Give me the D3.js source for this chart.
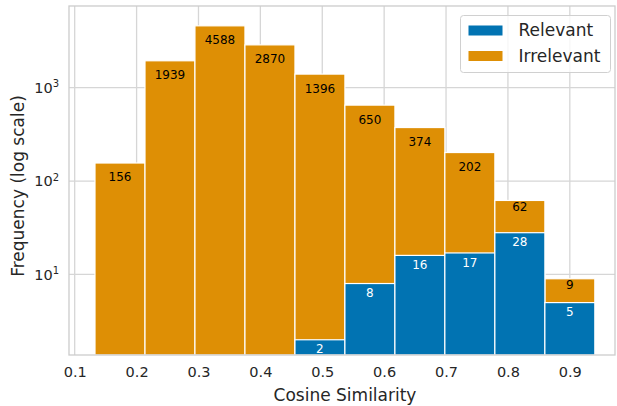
<!DOCTYPE html>
<html>
<head>
<meta charset="utf-8">
<script src="https://cdn.jsdelivr.net/npm/d3@7"></script>
<style>
	body { margin: 0; background: #fff; }
	text { font-family: "DejaVu Sans", sans-serif; }
</style>
</head>
<body>
<div id="chart"></div>
<script>
// histogram of cosine similarity, 10 bins
var binEdges = [0.1328, 0.2136, 0.2943, 0.3751, 0.4559, 0.5366, 0.6174, 0.6981, 0.7789, 0.8597, 0.9404]
var irrelevant = [156, 1939, 4588, 2870, 1396, 650, 374, 202, 62, 9]
var relevant = [0, 0, 0, 0, 2, 8, 16, 17, 28, 5]
var xTicks = [0.1, 0.2, 0.3, 0.4, 0.5, 0.6, 0.7, 0.8, 0.9]
var yTicks = [10, 100, 1000]
var seriesNames = ['Relevant', 'Irrelevant']

var colors = { Relevant: '#0173b2', Irrelevant: '#de8f05' }
var gridColor = '#d6d6d6'
var textColor = '#262626'

var width = 617, height = 406
var margin = { top: 6, right: 2, bottom: 51, left: 69 }

var svg = d3.select('#chart').append('svg')
	.attr('width', width).attr('height', height)

var x = d3.scaleLinear().domain([0.0908, 0.9730]).range([margin.left, width - margin.right])
var y = d3.scaleLog().domain([1.374, 7480]).range([height - margin.bottom, margin.top])

var plotBottom = height - margin.bottom

// grid
var grid = svg.append('g')
grid.selectAll('.vgrid').data(xTicks).enter().append('line')
	.attr('x1', function(d) { return x(d) }).attr('x2', function(d) { return x(d) })
	.attr('y1', margin.top).attr('y2', plotBottom)
	.attr('stroke', gridColor).attr('stroke-width', 1.3)
grid.selectAll('.hgrid').data(yTicks).enter().append('line')
	.attr('x1', margin.left).attr('x2', width - margin.right)
	.attr('y1', function(d) { return y(d) }).attr('y2', function(d) { return y(d) })
	.attr('stroke', gridColor).attr('stroke-width', 1.3)

// bars
function bins(counts) {
	return counts.map(function(c, i) { return { x0: binEdges[i], x1: binEdges[i + 1], count: c } })
}

var irrBins = bins(irrelevant)
var relBins = bins(relevant).filter(function(d) { return d.count > 0 })

function drawBars(data, color) {
	svg.append('g').selectAll('rect').data(data).enter().append('rect')
		.attr('x', function(d) { return x(d.x0) })
		.attr('width', function(d) { return x(d.x1) - x(d.x0) })
		.attr('y', function(d) { return y(d.count) })
		.attr('height', function(d) { return plotBottom - y(d.count) })
		.attr('fill', color)
		.attr('stroke', '#fff').attr('stroke-width', 1.2)
}
drawBars(irrBins, colors.Irrelevant)
drawBars(relBins, colors.Relevant)

// bar labels
svg.append('g').selectAll('text').data(irrBins).enter().append('text')
	.attr('x', function(d) { return (x(d.x0) + x(d.x1)) / 2 })
	.attr('y', function(d) { return y(d.count * (d.count >= 100 ? 0.7 : 0.85)) })
	.attr('text-anchor', 'middle').attr('dominant-baseline', 'central')
	.attr('font-size', '12px').attr('fill', '#000')
	.text(function(d) { return d.count })

svg.append('g').selectAll('text').data(relBins).enter().append('text')
	.attr('x', function(d) { return (x(d.x0) + x(d.x1)) / 2 })
	.attr('y', function(d) { return y(d.count * 0.79) })
	.attr('text-anchor', 'middle').attr('dominant-baseline', 'central')
	.attr('font-size', '12px').attr('fill', '#fff')
	.text(function(d) { return d.count })

// spines
svg.append('rect')
	.attr('x', margin.left).attr('y', margin.top)
	.attr('width', width - margin.right - margin.left).attr('height', plotBottom - margin.top)
	.attr('fill', 'none').attr('stroke', '#cccccc').attr('stroke-width', 1.3)

// x axis
var xAxis = d3.axisBottom(x).tickValues(xTicks).tickSize(0).tickPadding(12)
	.tickFormat(d3.format('.1f'))
var gx = svg.append('g').attr('transform', 'translate(0,' + plotBottom + ')').call(xAxis)
gx.select('.domain').remove()
gx.selectAll('text').attr('font-size', '14.5px').attr('fill', textColor)
	.attr('font-family', '"DejaVu Sans", sans-serif')

// y axis with powers of ten
var gy = svg.append('g')
gy.selectAll('text').data(yTicks).enter().append('text')
	.attr('x', margin.left - 10)
	.attr('y', function(d) { return y(d) })
	.attr('dy', '0.35em')
	.attr('text-anchor', 'end')
	.attr('font-size', '14.5px').attr('fill', textColor)
	.each(function(d) {
		var t = d3.select(this)
		t.append('tspan').text('10')
		t.append('tspan').attr('font-size', '10px').attr('dy', '-0.55em').text(Math.round(Math.log10(d)))
	})

// axis labels
svg.append('text')
	.attr('x', (margin.left + width - margin.right) / 2 + 3).attr('y', 401)
	.attr('text-anchor', 'middle').attr('font-size', '17px').attr('fill', textColor)
	.text('Cosine Similarity')
svg.append('text')
	.attr('transform', 'translate(24,' + 186 + ') rotate(-90)')
	.attr('text-anchor', 'middle').attr('font-size', '17px').attr('fill', textColor)
	.text('Frequency (log scale)')

// legend
var legend = svg.append('g').attr('transform', 'translate(460.5,15.5)')
legend.append('rect')
	.attr('width', 150).attr('height', 57).attr('rx', 3)
	.attr('fill', '#fff').attr('fill-opacity', 0.8)
	.attr('stroke', '#d0d0d0').attr('stroke-width', 1)
var items = legend.selectAll('.item').data(seriesNames).enter().append('g')
	.attr('transform', function(d, i) { return 'translate(8,' + (15 + i * 25.5) + ')' })
items.append('rect')
	.attr('x', 0).attr('y', -5).attr('width', 34).attr('height', 10)
	.attr('fill', function(d) { return colors[d] })
items.append('text')
	.attr('x', 50).attr('y', 0).attr('dy', '0.35em')
	.attr('font-size', '17px').attr('fill', textColor)
	.text(function(d) { return d })
</script>
</body>
</html>
